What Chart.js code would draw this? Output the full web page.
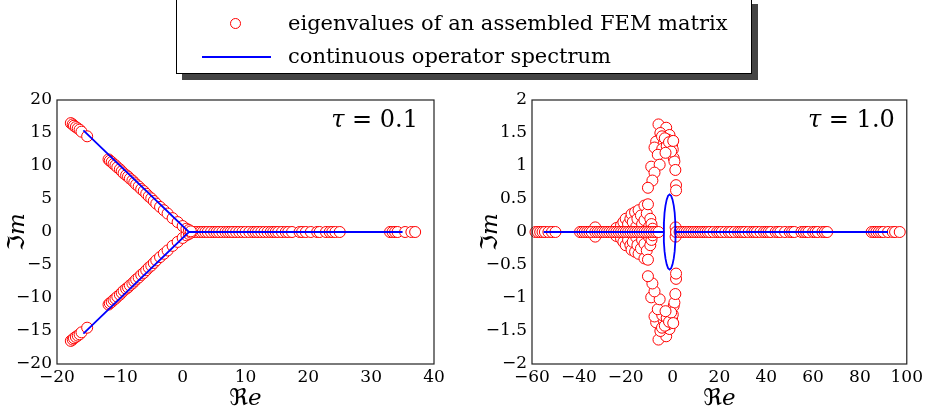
<!DOCTYPE html>
<html>
<head>
<meta charset="utf-8">
<script src="https://cdn.jsdelivr.net/npm/chart.js@4.4.1/dist/chart.umd.min.js"></script>
<style>
  body { margin: 0; background: #fff; width: 926px; height: 415px; overflow: hidden; position: relative; font-family: "DejaVu Serif", serif; }
  canvas { position: absolute; top: 0; }
  #c1 { left: 0; }
  #c2 { left: 463px; }
  #legend { position: absolute; left: 176px; top: -2px; width: 576px; height: 76px; box-sizing: border-box;
    border: 1.3px solid #000; background: #fff; box-shadow: 6px 6px 0 #444; z-index: 2; }
  #legend .txt { position: absolute; left: 111px; font-size: 21px; line-height: 24px; white-space: nowrap; color: #000; }
  #legend .mk { position: absolute; left: 53px; top: 19px; width: 9px; height: 9px; border: 1.2px solid #f00; border-radius: 50%; background: #fff; }
  #legend .ln { position: absolute; left: 25px; top: 57px; width: 69px; height: 2px; background: #00f; }
</style>
</head>
<body>
<div id="legend">
  <div class="mk"></div><div class="txt" style="top:12px">eigenvalues of an assembled FEM matrix</div>
  <div class="ln"></div><div class="txt" style="top:45px">continuous operator spectrum</div>
</div>
<canvas id="c1" width="463" height="415"></canvas>
<canvas id="c2" width="463" height="415"></canvas>
<script>
// ---- tau = 0.1 ----
const t01UpperRe = [-17.8, -17.5, -17.3, -17.0, -16.7, -16.4, -16.1, -15.2, -11.8, -11.6, -11.3, -11.0, -10.7, -10.4, -10.0, -9.7, -9.4, -9.0, -8.7, -8.4, -8.0, -7.7, -7.4, -7.0, -6.6, -6.2, -5.8, -5.4, -5.0, -4.6, -4.2, -3.6, -3.0, -2.4, -1.6, -0.8, 0.0, 0.6, 1.0, 1.3];
const t01UpperIm = [16.5, 16.3, 16.1, 15.9, 15.7, 15.5, 15.2, 14.5, 11.0, 10.8, 10.6, 10.3, 10.1, 9.8, 9.5, 9.2, 8.9, 8.6, 8.4, 8.1, 7.8, 7.5, 7.2, 6.9, 6.5, 6.2, 5.8, 5.4, 5.1, 4.7, 4.3, 3.8, 3.3, 2.8, 2.1, 1.5, 0.9, 0.5, 0.3, 0.1];
const t01LowerRe = [-17.8, -17.5, -17.3, -17.0, -16.7, -16.4, -16.1, -15.2, -11.8, -11.6, -11.3, -11.0, -10.7, -10.4, -10.0, -9.7, -9.4, -9.0, -8.7, -8.4, -8.0, -7.7, -7.4, -7.0, -6.6, -6.2, -5.8, -5.4, -5.0, -4.6, -4.2, -3.6, -3.0, -2.4, -1.6, -0.8, 0.0, 0.6, 1.0, 1.3];
const t01LowerIm = [-16.5, -16.3, -16.1, -15.9, -15.7, -15.5, -15.2, -14.5, -11.0, -10.8, -10.6, -10.3, -10.1, -9.8, -9.5, -9.2, -8.9, -8.6, -8.4, -8.1, -7.8, -7.5, -7.2, -6.9, -6.5, -6.2, -5.8, -5.4, -5.1, -4.7, -4.3, -3.8, -3.3, -2.8, -2.1, -1.5, -0.9, -0.5, -0.3, -0.1];
const t01RealRe = [1.5, 2.0, 2.4, 2.8, 3.2, 3.6, 4.0, 4.5, 5.0, 5.4, 5.8, 6.3, 6.8, 7.2, 7.6, 8.0, 8.5, 9.0, 9.5, 10.0, 10.6, 11.2, 11.6, 12.0, 12.5, 13.0, 13.5, 14.0, 14.4, 14.8, 15.2, 15.8, 16.4, 16.8, 17.4, 18.6, 19.0, 19.6, 20.4, 21.4, 21.8, 22.8, 23.4, 23.8, 24.3, 25.0, 33.0, 33.4, 33.8, 34.2, 35.4, 36.4, 37.0];
const t01SpecRe = [-15.8, 1.0, -15.8];
const t01SpecIm = [15.4, 0.0, -15.4];
const t01RayRe = [1.0, 35.0];

// ---- tau = 1.0 ----
const t10RealRe = [-58.5, -57.5, -56.5, -55.5, -54.5, -53, -51.5, -50, -39.5, -38.5, -37.5, -36.5, -35.5, -34.5, -33, -32, -31, -30, -29, -28, -27, -26, -25, -24, -23, -22, -21, -20, -19, -18, -17, -16, -15, -14, -13, -12, -11, -10, -9, -8, -7, -6, 1.5, 3, 4, 5, 6, 7, 8, 9, 10, 11, 12, 13, 14, 15, 16, 17.5, 19, 20, 21, 22.5, 24, 25, 26.5, 28, 29, 30, 31, 32.5, 34, 35, 36, 37.5, 39, 40, 41, 42, 44, 45, 46, 48, 50, 51, 52, 55, 56, 57, 58, 60, 61, 62, 64, 65, 66, 85, 86, 87, 88, 89, 90, 92, 94, 95, 97];
const t10FanRe = [-33, -24, -22, -21, -20, -19, -18, -17.5, -17, -16, -15.5, -15, -14.5, -13.5, -13, -12, -12, -11, -10.5, -10, -9.5, -9, -8.5, 1.3];
const t10FanUpIm = [0.07, 0.06, 0.1, 0.15, 0.2, 0.12, 0.2, 0.27, 0.15, 0.3, 0.08, 0.2, 0.33, 0.25, 0.12, 0.4, 0.18, 0.28, 0.42, 0.08, 0.2, 0.12, 0.05, 0.07];
const t10FanLoIm = [-0.07, -0.06, -0.1, -0.15, -0.2, -0.12, -0.2, -0.27, -0.15, -0.3, -0.08, -0.2, -0.33, -0.25, -0.12, -0.4, -0.18, -0.28, -0.42, -0.08, -0.2, -0.12, -0.05, -0.07];
const t10WingRe = [-6.0, -2.7, -5.2, -1.3, -2.0, -7.0, -3.8, -0.2, -7.7, -4.4, 0.1, -6.3, 0.5, 0.8, -9.1, -5.5, 1.2, -7.7, -8.6, -10.5, 1.5, 1.5, -4.5, -3.3, -2.5, -1.5, -0.6, -3.0, 0.3];
const t10WingUpIm = [1.63, 1.58, 1.50, 1.47, 1.40, 1.37, 1.34, 1.32, 1.28, 1.26, 1.25, 1.17, 1.12, 1.07, 0.99, 1.02, 0.94, 0.90, 0.78, 0.67, 0.71, 0.63, 1.45, 1.42, 1.30, 1.36, 1.22, 1.20, 1.38];
const t10WingLoIm = [-1.63, -1.58, -1.50, -1.47, -1.40, -1.37, -1.34, -1.32, -1.28, -1.26, -1.25, -1.17, -1.12, -1.07, -0.99, -1.02, -0.94, -0.90, -0.78, -0.67, -0.71, -0.63, -1.45, -1.42, -1.30, -1.36, -1.22, -1.20, -1.38];
const t10LeftRayRe = [-55, -3.75];
const t10RightRayRe = [1.25, 92];
const t10LoopRe = [1.25, 1.16, 0.92, 0.52, 0, -0.6, -1.25, -1.9, -2.5, -3.02, -3.42, -3.66, -3.75, -3.66, -3.42, -3.02, -2.5, -1.9, -1.25, -0.6, 0, 0.52, 0.92, 1.16, 1.25];
const t10LoopIm = [0, 0.15, 0.29, 0.4, 0.49, 0.55, 0.57, 0.55, 0.49, 0.4, 0.29, 0.15, 0, -0.15, -0.29, -0.4, -0.49, -0.55, -0.57, -0.55, -0.49, -0.4, -0.29, -0.15, 0];

const SERIF = '"DejaVu Serif", "DejaVu Sans", serif';
const pts = (re, im) => re.map((x, i) => ({ x: x, y: im ? im[i] : 0 }));
const fmt = (v) => (v < 0 ? '\u2212' : '') + Math.abs(v);

const eig = (data) => ({
  data: data, order: 2, showLine: false, pointStyle: 'circle', pointRadius: 5.5,
  pointBorderColor: '#ff0000', pointBackgroundColor: '#ffffff', pointBorderWidth: 1, clip: 10
});
const spec = (data) => ({
  data: data, order: 1, showLine: true, borderColor: '#0000ff', borderWidth: 1.8,
  pointRadius: 0, fill: false, clip: 4
});

// frame + axis titles + tau label
const decoPlugin = {
  id: 'deco',
  afterDraw(chart, args, opts) {
    const { ctx, chartArea: a } = chart;
    ctx.save();
    ctx.strokeStyle = '#222';
    ctx.lineWidth = 1.2;
    ctx.strokeRect(a.left, a.top, a.right - a.left, a.bottom - a.top);
    ctx.fillStyle = '#000';
    ctx.textBaseline = 'alphabetic';

    const pair = (sym, letter, size) => {
      ctx.font = size + 'px ' + SERIF;
      const w1 = ctx.measureText(sym).width;
      ctx.font = 'italic ' + size + 'px ' + SERIF;
      const w2 = ctx.measureText(letter).width;
      return [w1, w2];
    };
    // x title
    let [w1, w2] = pair('\u211C', 'e', 23);
    let cx = (a.left + a.right) / 2 - (w1 + w2) / 2;
    ctx.font = '23px ' + SERIF; ctx.fillText('\u211C', cx, 405);
    ctx.font = 'italic 23px ' + SERIF; ctx.fillText('e', cx + w1, 405);
    // y title
    [w1, w2] = pair('\u2111', 'm', 23);
    ctx.save();
    ctx.translate(a.left - opts.yTitleGap, (a.top + a.bottom) / 2);
    ctx.rotate(-Math.PI / 2);
    cx = -(w1 + w2) / 2;
    ctx.font = '23px ' + SERIF; ctx.fillText('\u2111', cx, 8);
    ctx.font = 'italic 23px ' + SERIF; ctx.fillText('m', cx + w1, 8);
    ctx.restore();
    // tau label
    ctx.font = 'italic 24px ' + SERIF;
    const wt = ctx.measureText('\u03C4').width;
    ctx.font = '24px ' + SERIF;
    const rest = ' = ' + opts.tau;
    const wr = ctx.measureText(rest).width;
    const x0 = a.right - opts.tauRight - wt - wr;
    ctx.font = 'italic 24px ' + SERIF; ctx.fillText('\u03C4', x0, 127);
    ctx.font = '24px ' + SERIF; ctx.fillText(rest, x0 + wt, 127);
    ctx.restore();
  }
};

const axes = (xMin, xMax, xStep, yMin, yMax, yStep, yWidth) => ({
  x: {
    type: 'linear', min: xMin, max: xMax,
    ticks: { stepSize: xStep, callback: fmt, color: '#000', padding: 3, maxRotation: 0, autoSkip: false, font: { family: SERIF, size: 17 } },
    grid: { display: false, drawTicks: false }, border: { display: false },
    afterFit: (s) => { s.height = 51; }
  },
  y: {
    type: 'linear', min: yMin, max: yMax,
    ticks: { stepSize: yStep, callback: fmt, color: '#000', padding: 5, autoSkip: false, font: { family: SERIF, size: 17 } },
    grid: { display: false, drawTicks: false }, border: { display: false },
    afterFit: (s) => { s.width = yWidth; }
  }
});

const base = (datasets, scales, padRight, decoOpts) => ({
  type: 'scatter',
  data: { datasets: datasets },
  options: {
    responsive: false, animation: false, devicePixelRatio: 1,
    layout: { padding: { top: 100, right: padRight, bottom: 0, left: 0 } },
    scales: scales,
    plugins: { legend: { display: false }, tooltip: { enabled: false }, deco: decoOpts }
  },
  plugins: [decoPlugin]
});

new Chart(document.getElementById('c1'), base([
  spec(pts(t01SpecRe, t01SpecIm)),
  spec(pts(t01RayRe)),
  eig(pts(t01UpperRe, t01UpperIm)),
  eig(pts(t01LowerRe, t01LowerIm)),
  eig(pts(t01RealRe))
], axes(-20, 40, 10, -20, 20, 5, 57), 29, { tau: '0.1', tauRight: 16, yTitleGap: 41 }));

new Chart(document.getElementById('c2'), base([
  spec(pts(t10LeftRayRe)),
  spec(pts(t10RightRayRe)),
  spec(pts(t10LoopRe, t10LoopIm)),
  eig(pts(t10RealRe)),
  eig(pts(t10FanRe, t10FanUpIm)),
  eig(pts(t10FanRe, t10FanLoIm)),
  eig(pts(t10WingRe, t10WingUpIm)),
  eig(pts(t10WingRe, t10WingLoIm))
], axes(-60, 100, 20, -2, 2, 0.5, 69), 17, { tau: '1.0', tauRight: 12, yTitleGap: 43 }));
</script>
</body>
</html>
